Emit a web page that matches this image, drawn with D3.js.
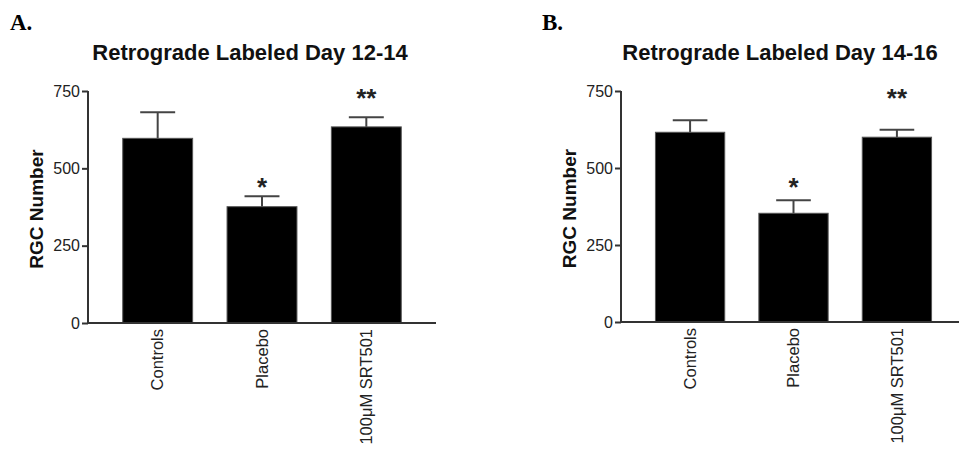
<!DOCTYPE html>
<html>
<head>
<meta charset="utf-8">
<script src="https://cdn.jsdelivr.net/npm/d3@7"></script>
<style>
  body { margin: 0; background: #fff; }
  svg { display: block; font-family: "Liberation Sans", Arial, sans-serif; }
</style>
</head>
<body>
<svg id="chart" width="959" height="452"></svg>
<script>
// data
const categories = ["Controls", "Placebo", "100\u03BCM SRT501"];
const meansA = [597, 376, 634];
const errA = [84, 34, 31];
const meansB = [616, 353, 600];
const errB = [39, 42, 24];
const sigLabels = ["", "*", "**"];
const sigLevel = [0, 455, 745];   // where the star marks sit, in RGC units
const yTicks = [0, 250, 500, 750];

const svg = d3.select("#chart");

function drawPanel(opt) {
    const g = svg.append("g");

    const x = d3.scaleBand()
        .domain(categories)
        .range([opt.left, opt.right])
        .paddingInner(0.33)
        .paddingOuter(0.333);

    const y = d3.scaleLinear()
        .domain([0, 750])
        .range([opt.bottom, opt.top]);

    // panel letter
    g.append("text")
        .attr("x", opt.letterX).attr("y", 30)
        .attr("font-family", "'Liberation Serif', 'Times New Roman', serif")
        .attr("font-weight", "bold")
        .attr("font-size", 23)
        .text(opt.letter);

    // title
    g.append("text")
        .attr("x", opt.titleX).attr("y", 60)
        .attr("text-anchor", "middle")
        .attr("font-weight", "bold")
        .attr("font-size", 22)
        .attr("fill", "#111")
        .text(opt.title);

    const data = categories.map((c, i) => ({cat: c, v: opt.means[i], e: opt.errs[i], sig: sigLabels[i], lvl: sigLevel[i]}));

    // error bars (drawn first so the bar covers the stem bottom)
    const capW = x.bandwidth() * 0.5;
    const eb = g.selectAll(".eb").data(data).enter().append("g")
        .attr("stroke", "#444").attr("stroke-width", 2);
    eb.append("line")
        .attr("x1", d => x(d.cat) + x.bandwidth() / 2)
        .attr("x2", d => x(d.cat) + x.bandwidth() / 2)
        .attr("y1", d => y(d.v))
        .attr("y2", d => y(d.v + d.e));
    eb.append("line")
        .attr("x1", d => x(d.cat) + x.bandwidth() / 2 - capW / 2)
        .attr("x2", d => x(d.cat) + x.bandwidth() / 2 + capW / 2)
        .attr("y1", d => y(d.v + d.e))
        .attr("y2", d => y(d.v + d.e));

    // bars
    g.selectAll(".bar").data(data).enter().append("rect")
        .attr("x", d => x(d.cat))
        .attr("y", d => y(d.v))
        .attr("width", x.bandwidth())
        .attr("height", d => y(0) - y(d.v))
        .attr("fill", "#000")
        .attr("stroke", "#555")
        .attr("stroke-width", 1);

    // significance stars
    g.selectAll(".sig").data(data.filter(d => d.sig)).enter().append("text")
        .attr("x", d => x(d.cat) + x.bandwidth() / 2)
        .attr("y", d => y(d.lvl) + 14)
        .attr("text-anchor", "middle")
        .attr("font-weight", "bold")
        .attr("font-size", 26)
        .attr("fill", "#222")
        .text(d => d.sig);

    // y axis
    const yAxis = g.append("g")
        .attr("transform", `translate(${opt.left},0)`)
        .call(d3.axisLeft(y).tickValues(yTicks).tickSize(6).tickPadding(2));
    yAxis.select(".domain").attr("stroke", "#333").attr("stroke-width", 2)
        .attr("d", `M0,${opt.top}V${opt.bottom}`);
    yAxis.selectAll(".tick line").attr("stroke", "#333").attr("stroke-width", 2);
    yAxis.selectAll(".tick text")
        .attr("font-size", 16).attr("fill", "#222")
        .attr("font-family", "'Liberation Sans', Arial, sans-serif");

    // x axis
    const xAxis = g.append("g")
        .attr("transform", `translate(0,${opt.bottom})`)
        .call(d3.axisBottom(x).tickSize(0).tickPadding(0));
    xAxis.select(".domain").attr("stroke", "#333").attr("stroke-width", 2)
        .attr("d", `M${opt.left},0H${opt.right}`);
    xAxis.selectAll(".tick text")
        .attr("font-size", 16.5).attr("fill", "#222")
        .attr("font-family", "'Liberation Sans', Arial, sans-serif")
        .attr("text-anchor", "end")
        .attr("transform", "translate(0,6) rotate(-90)")
        .attr("x", 0).attr("y", 0)
        .attr("dy", "0.35em");

    // y axis label
    g.append("text")
        .attr("transform", `translate(${opt.yLabelX},${(opt.top + opt.bottom) / 2 + 2}) rotate(-90)`)
        .attr("text-anchor", "middle")
        .attr("font-weight", "bold")
        .attr("font-size", 19)
        .attr("fill", "#111")
        .text("RGC Number");
}

drawPanel({
    letter: "A.", letterX: 10,
    title: "Retrograde Labeled Day 12-14", titleX: 250,
    means: meansA, errs: errA,
    left: 88, right: 436, top: 91, bottom: 323,
    yLabelX: 43
});

drawPanel({
    letter: "B.", letterX: 542,
    title: "Retrograde Labeled Day 14-16", titleX: 780,
    means: meansB, errs: errB,
    left: 621, right: 966, top: 91, bottom: 322,
    yLabelX: 576
});
</script>
</body>
</html>
